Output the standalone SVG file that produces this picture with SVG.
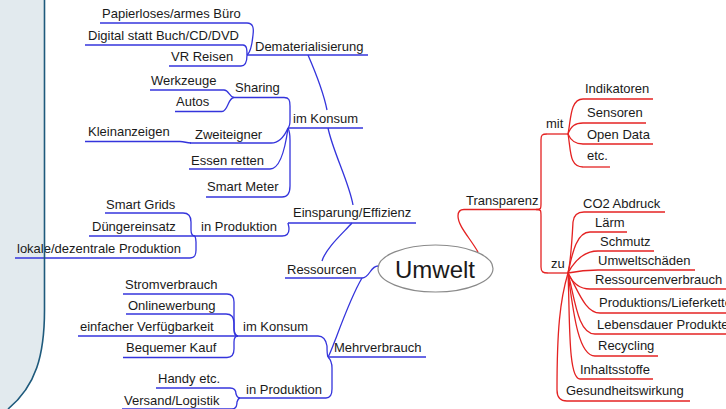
<svg xmlns="http://www.w3.org/2000/svg" width="726" height="409" viewBox="0 0 726 409">
<style>
text{font-family:"Liberation Sans",Arial,sans-serif;font-size:13px;fill:#1a1a1a}
.b{stroke:#3434dc;stroke-width:1.3;fill:none}
.r{stroke:#e42222;stroke-width:1.3;fill:none}
.big{font-size:24px}
</style>
<rect width="726" height="409" fill="#ffffff"/>
<path d="M0,0 H44.5 V310 C44.5,355 36,386 8,409 H0 Z" fill="#e2eaee"/>
<g id="connectors">
<path class="b" d="M247,23 C253,23 254,28 253,35 C252,45 250,53 247,55"/>
<path class="b" d="M243,45 C247,45 247,50 247,55"/>
<path class="b" d="M241,66 C246,66 247,60 247,55"/>
<path class="b" d="M308,55 C318,78 324,95 327,110"/>
<path class="b" d="M224,90 C229,90 229,97 234,97.5"/>
<path class="b" d="M222,111.5 C228,111.5 228,97.5 234,97.5"/>
<path class="b" d="M284,97.5 C289,97.5 290,100 290,106 V120 C290,125 289,127 288,128"/>
<path class="b" d="M328,128 C333,152 349,182 353,205"/>
<path class="b" d="M180,141.5 C185,141.5 186,143 191,143"/>
<path class="b" d="M271,143 C280,143 285,135 288,128"/>
<path class="b" d="M270,169 C280,169 285,150 288,128"/>
<path class="b" d="M282,197 C288,197 290,193 290,186 V140 C290,134 289,130 288,128"/>
<path class="b" d="M183,213 C189,213 191,216 191,222 V230 C191,234 193,236 195,236"/>
<path class="b" d="M190,258 C195,258 196,255 196,250 V242 C196,238 195,237 195,236"/>
<path class="b" d="M282,236 C287,236 289,233 289,229 C289,226 288,224 288,223"/>
<path class="b" d="M352,223 C342,234 326,248 322,261"/>
<path class="b" d="M362,278 C370,278 370,266 378,266"/>
<path class="b" d="M227,294 C232,294 234,297 234,302 V328 C234,333 236,336 238,336"/>
<path class="b" d="M226,314 C232,314 234,318 234,323 V330 C234,334 236,336 238,336"/>
<path class="b" d="M227,357.5 C232,357.5 234,354 234,349 V342 C234,338 236,336 238,336"/>
<path class="b" d="M318,336 C324,336 326,340 327,346 C327,352 327,355 328,357"/>
<path class="b" d="M230,388 C235,388 236,391 236,394 C237,397 238,398 240,398"/>
<path class="b" d="M232,409 C236,409 237,405 237,402 C238,399 239,398 240,398"/>
<path class="b" d="M326,398 C331,398 332,394 332,389 V368 C332,362 330,359 328,357"/>
<path class="b" d="M362,278 C352,295 342,322 336,338 C332,348 330,354 328,357"/>
<path class="r" d="M478,252 C470,238 458,226 458,216 Q458,209.5 464,209.5"/>
<path class="r" d="M536,209.5 C541,209.5 541,209 541,203 V140 C541,135 542,134 547,134"/>
<path class="r" d="M536,209.5 C541,209.5 541,210 541,216 V267 C541,272 543,273 548,273"/>
<path class="r" d="M568,134 C571,120 570,99 583,99"/>
<path class="r" d="M568,134 C571,126 575,123 583,123"/>
<path class="r" d="M568,134 C571,141 575,144 583,144"/>
<path class="r" d="M568,134 C571,150 569,167 583,167"/>
<path class="r" d="M568,273 C571,260 572,240 573,222 Q574,212 584,212"/>
<path class="r" d="M568,273 C572,255 576,232 590,232"/>
<path class="r" d="M568,273 C576,258 585,251 598,251"/>
<path class="r" d="M568,273 C578,271 588,270 598,270"/>
<path class="r" d="M568,273 C572,282 578,289 590,289"/>
<path class="r" d="M568,273 C578,290 585,313 600,313"/>
<path class="r" d="M568,273 C575,300 578,334 595,334"/>
<path class="r" d="M568,273 C573,310 578,356 595,356"/>
<path class="r" d="M568,273 C570,320 568,379 580,379"/>
<path class="r" d="M568,273 C560,300 557,330 557,390 Q557,401 567,401"/>
</g>
<g id="umwelt"><ellipse cx="435.5" cy="268.5" rx="57.5" ry="23.5" fill="#ffffff" stroke="#8a8a8a" stroke-width="1.2"/><text class="big" x="395" y="278">Umwelt</text></g>
<g id="papier"><text x="102" y="18">Papierloses/armes Büro</text><path class="b" d="M100,23 H247"/></g>
<g id="digital"><text x="88" y="40">Digital statt Buch/CD/DVD</text><path class="b" d="M85,45 H243"/></g>
<g id="vr"><text x="171" y="61">VR Reisen</text><path class="b" d="M169,66 H241"/></g>
<g id="demat"><text x="255" y="51">Dematerialisierung</text><path class="b" d="M247,55 H368"/></g>
<g id="werkzeuge"><text x="151" y="85">Werkzeuge</text><path class="b" d="M150,90 H224"/></g>
<g id="autos"><text x="176" y="106">Autos</text><path class="b" d="M175,111.5 H222"/></g>
<g id="sharing"><text x="235" y="92">Sharing</text><path class="b" d="M234,97.5 H284"/></g>
<g id="konsum1"><text x="293" y="123">im Konsum</text><path class="b" d="M288,128 H363"/></g>
<g id="klein"><text x="88" y="136">Kleinanzeigen</text><path class="b" d="M85,141.5 H180"/></g>
<g id="zweit"><text x="195" y="139">Zweiteigner</text><path class="b" d="M190,143 H271"/></g>
<g id="essen"><text x="191" y="165">Essen retten</text><path class="b" d="M189,169 H270"/></g>
<g id="meter"><text x="207" y="191">Smart Meter</text><path class="b" d="M206,197 H282"/></g>
<g id="grids"><text x="106" y="209">Smart Grids</text><path class="b" d="M105,213 H183"/></g>
<g id="dunger"><text x="92" y="231">Düngereinsatz</text><path class="b" d="M89,236 H195"/></g>
<g id="prod1"><text x="201" y="231">in Produktion</text><path class="b" d="M195,236 H282"/></g>
<g id="lokal"><text x="17" y="253">lokale/dezentrale Produktion</text><path class="b" d="M15,258 H190"/></g>
<g id="einspar"><text x="293" y="217">Einsparung/Effizienz</text><path class="b" d="M288,223 H416"/></g>
<g id="ress"><text x="287" y="274">Ressourcen</text><path class="b" d="M285,278 H362"/></g>
<g id="strom"><text x="125" y="289">Stromverbrauch</text><path class="b" d="M123,294 H227"/></g>
<g id="online"><text x="128" y="310">Onlinewerbung</text><path class="b" d="M126,314 H226"/></g>
<g id="einfach"><text x="80" y="331">einfacher Verfügbarkeit</text><path class="b" d="M78,336 H238"/></g>
<g id="bequem"><text x="126" y="352">Bequemer Kauf</text><path class="b" d="M123,357.5 H227"/></g>
<g id="konsum2"><text x="243" y="331">im Konsum</text><path class="b" d="M238,336 H318"/></g>
<g id="handy"><text x="158" y="383">Handy etc.</text><path class="b" d="M156,388 H230"/></g>
<g id="versand"><text x="124" y="405">Versand/Logistik</text><path class="b" d="M122,409 H232"/></g>
<g id="prod2"><text x="246" y="394">in Produktion</text><path class="b" d="M240,398 H326"/></g>
<g id="mehr"><text x="334" y="352">Mehrverbrauch</text><path class="b" d="M328,357 H426"/></g>
<g id="transp"><text x="466" y="205">Transparenz</text><path class="r" d="M464,209.5 H536"/></g>
<g id="mit"><text x="546" y="128">mit</text><path class="r" d="M547,134 H568"/></g>
<g id="zu"><text x="551" y="268">zu</text><path class="r" d="M548,273 H568"/></g>
<g id="indik"><text x="585" y="93">Indikatoren</text><path class="r" d="M583,99 H653"/></g>
<g id="sensor"><text x="587" y="117">Sensoren</text><path class="r" d="M583,123 H646"/></g>
<g id="opendata"><text x="587" y="139">Open Data</text><path class="r" d="M583,144 H653"/></g>
<g id="etc"><text x="587" y="160">etc.</text><path class="r" d="M583,167 H610"/></g>
<g id="co2"><text x="583" y="208">CO2 Abdruck</text><path class="r" d="M584,212 H665"/></g>
<g id="laerm"><text x="595" y="227">Lärm</text><path class="r" d="M590,232 H627"/></g>
<g id="schmutz"><text x="600" y="246">Schmutz</text><path class="r" d="M598,251 H654"/></g>
<g id="umweltsch"><text x="598" y="265">Umweltschäden</text><path class="r" d="M598,270 H695"/></g>
<g id="ressverb"><text x="595" y="284">Ressourcenverbrauch</text><path class="r" d="M590,289 H726"/></g>
<g id="lieferkette"><text x="599" y="307">Produktions/Lieferkette</text><path class="r" d="M600,313 H726"/></g>
<g id="lebensdauer"><text x="597" y="329">Lebensdauer Produkte</text><path class="r" d="M595,334 H726"/></g>
<g id="recycling"><text x="598" y="350">Recycling</text><path class="r" d="M595,356 H658"/></g>
<g id="inhalt"><text x="580" y="374">Inhaltsstoffe</text><path class="r" d="M580,379 H653"/></g>
<g id="gesund"><text x="566" y="395">Gesundheitswirkung</text><path class="r" d="M567,401 H690"/></g>
<path d="M44.5,0 V310 C44.5,355 36,386 8,409" fill="none" stroke="#1e5a7c" stroke-width="1.6"/>
</svg>
